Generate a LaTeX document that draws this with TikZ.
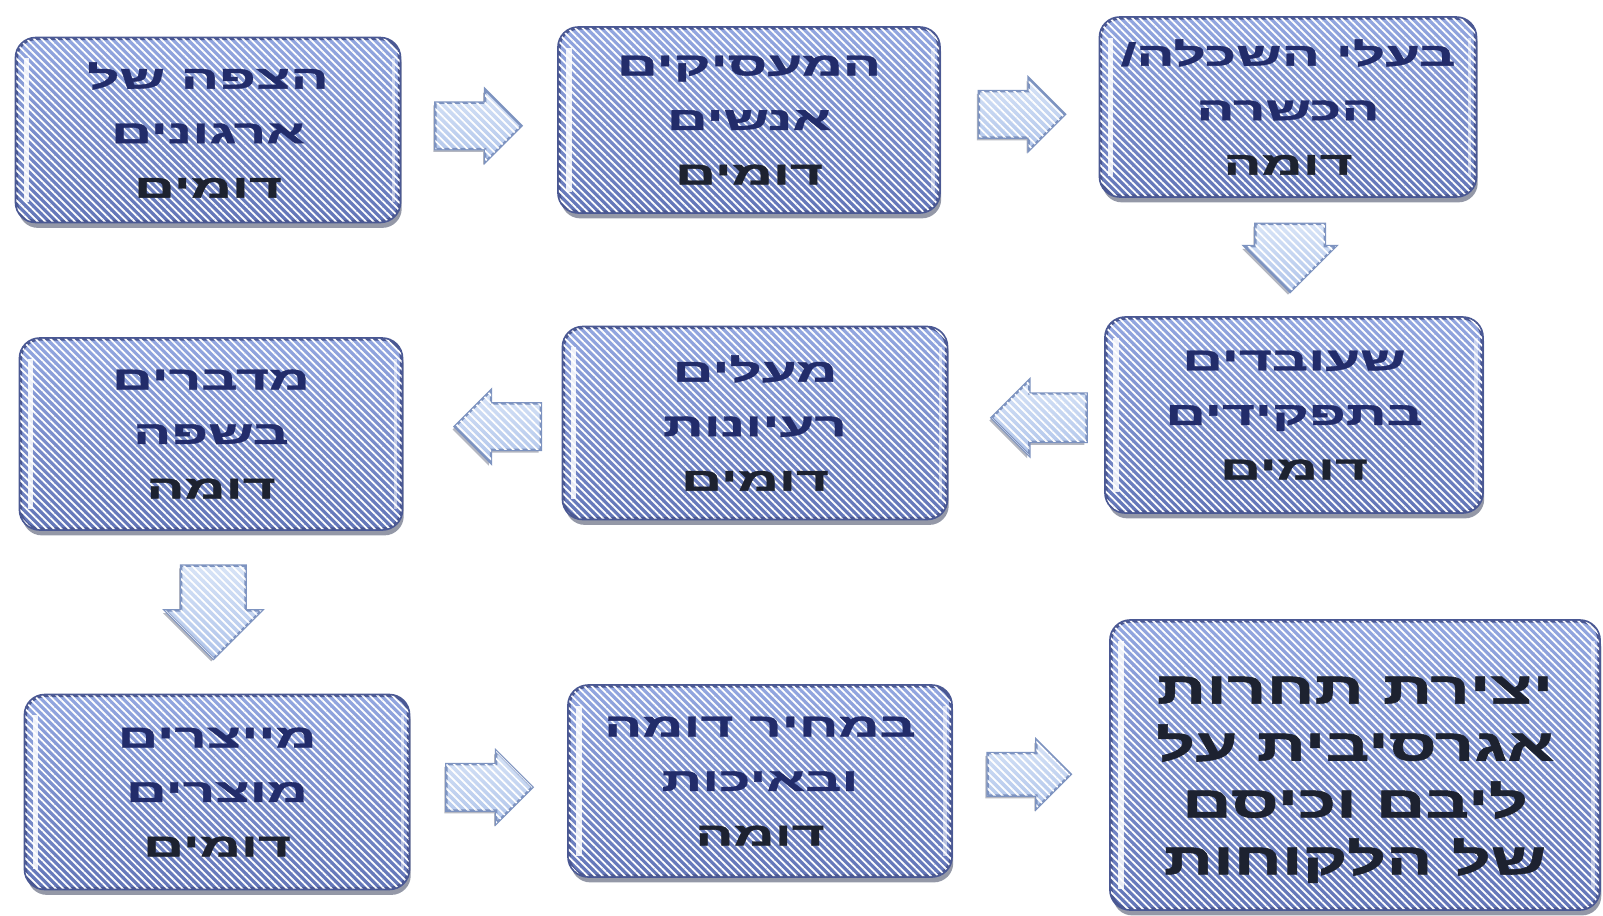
\documentclass[tikz,border=0pt]{standalone}
\usepackage{fontspec}
\newfontfamily\heb[Script=Hebrew, FakeStretch=1.75, FakeBold=1.2]{Liberation Sans}
\newfontfamily\hebw[Script=Hebrew, FakeStretch=1.55, FakeBold=1.2]{Liberation Sans}
\TeXXeTstate=1
\usetikzlibrary{shapes.arrows,shadows,calc,patterns.meta}
\definecolor{boxtop}{HTML}{93A7E0}
\definecolor{boxbot}{HTML}{6376B8}
\definecolor{boxline}{HTML}{4A5893}
\definecolor{txtnavy}{HTML}{222C6A}
\definecolor{txtdark}{HTML}{1D2230}
\definecolor{arrtop}{HTML}{D8E4F7}
\definecolor{arrbot}{HTML}{AFC4EA}
\definecolor{arrline}{HTML}{7D93C0}
\definecolor{shadowc}{HTML}{2A3350}
\newcommand{\hebline}[1]{\beginR #1\endR}
\newcommand{\heblast}[1]{{\color{txtdark}\beginR #1\endR}}
\tikzset{
  box/.style={draw=boxline, line width=1pt, rounded corners=5.5pt,
    top color=boxtop, bottom color=boxbot,
    drop shadow={shadow xshift=0.6pt, shadow yshift=-1.8pt, opacity=0.5, fill=shadowc},
    align=center, text=txtnavy, inner sep=2pt,
    font=\heb\bfseries\fontsize{9.2}{15.5}\selectfont,
    postaction={pattern={Lines[angle=-45,distance=1.5pt,line width=0.5pt]}, pattern color=white, fill opacity=0.12},
    path picture={\draw[white, line width=1.5pt, opacity=0.85]
      ($(path picture bounding box.north west)+(10,20)$) -- ($(path picture bounding box.south west)+(10,-20)$);
      \draw[white, line width=1pt, opacity=0.5]
      ($(path picture bounding box.north east)+(-6,20)$) -- ($(path picture bounding box.south east)+(-6,-20)$);}},
  blockarrow/.style={single arrow, draw=arrline, line width=0.7pt,
    top color=arrtop, bottom color=arrbot, inner xsep=0pt, inner ysep=0.22cm,
    minimum height=0.86cm, minimum width=0pt, single arrow head extend=0.13cm,
    drop shadow={shadow xshift=-0.6pt, shadow yshift=-0.8pt, opacity=0.35, fill=shadowc},
    postaction={pattern={Lines[angle=-45,distance=1.6pt,line width=0.5pt]}, pattern color=white, fill opacity=0.3}},
  downarrow/.style={blockarrow, shape border rotate=270, inner ysep=0pt, minimum height=0pt, minimum width=0pt}
}
\begin{document}
\begin{tikzpicture}[x=0.01cm, y=-0.01cm]
\useasboundingbox (0,0) rectangle (1603,915);
\fill[white] (0,0) rectangle (1603,915);

\node[box, minimum width=3.83cm, minimum height=1.83cm] (b1) at (208,130)
  {\hebline{הצפה של}\\\hebline{ארגונים}\\\heblast{דומים}};
\node[box, minimum width=3.80cm, minimum height=1.84cm] (b2) at (749,120)
  {\hebline{המעסיקים}\\\hebline{אנשים}\\\heblast{דומים}};
\node[box, minimum width=3.75cm, minimum height=1.78cm] (b3) at (1288,107)
  {\hebline{בעלי השכלה/}\\\hebline{הכשרה}\\\heblast{דומה}};
\node[box, minimum width=3.76cm, minimum height=1.94cm] (b4) at (1294,415)
  {\hebline{שעובדים}\\\hebline{בתפקידים}\\\heblast{דומים}};
\node[box, minimum width=3.83cm, minimum height=1.91cm] (b5) at (755,423)
  {\hebline{מעלים}\\\hebline{רעיונות}\\\heblast{דומים}};
\node[box, minimum width=3.81cm, minimum height=1.90cm] (b6) at (211,434)
  {\hebline{מדברים}\\\hebline{בשפה}\\\heblast{דומה}};
\node[box, minimum width=3.83cm, minimum height=1.93cm] (b7) at (217,792)
  {\hebline{מייצרים}\\\hebline{מוצרים}\\\heblast{דומים}};
\node[box, minimum width=3.82cm, minimum height=1.90cm] (b8) at (760,781)
  {\hebline{במחיר דומה}\\\hebline{ובאיכות}\\\heblast{דומה}};
\node[box, minimum width=4.88cm, minimum height=2.88cm, text=txtdark,
  font=\hebw\bfseries\fontsize{12.6}{16.2}\selectfont] (b9) at (1355,765)
  {\rule{0pt}{16pt}\hebline{יצירת תחרות}\\\hebline{אגרסיבית על}\\\hebline{ליבם וכיסם}\\\hebline{של הלקוחות}};

\node[blockarrow] (a12) at ($(b1.east)!0.42!(b2.west)$) {};
\node[blockarrow] (a23) at ($(b2.east)!0.44!(b3.west)$) {};
\node[downarrow, inner xsep=0.335cm, single arrow head extend=0.11cm, minimum height=0.68cm] (a34) at ($(b3.south)!0.36!(b4.north)$) {};
\node[blockarrow, shape border rotate=180, minimum height=0.95cm, inner ysep=0.23cm, single arrow head extend=0.135cm] (a45) at ($(b4.west)!0.34!(b5.east)$) {};
\node[blockarrow, shape border rotate=180] (a56) at ($(b5.west)!0.33!(b6.east)$) {};
\node[downarrow, inner xsep=0.31cm, single arrow head extend=0.16cm, minimum height=0.93cm] (a67) at ($(b6.south)!0.40!(b7.north)$) {};
\node[blockarrow] (a78) at ($(b7.east)!0.43!(b8.west)$) {};
\node[blockarrow, minimum height=0.83cm, inner ysep=0.2cm] (a89) at ($(b8.east)!0.42!(b9.west)$) {};
\end{tikzpicture}
\end{document}
